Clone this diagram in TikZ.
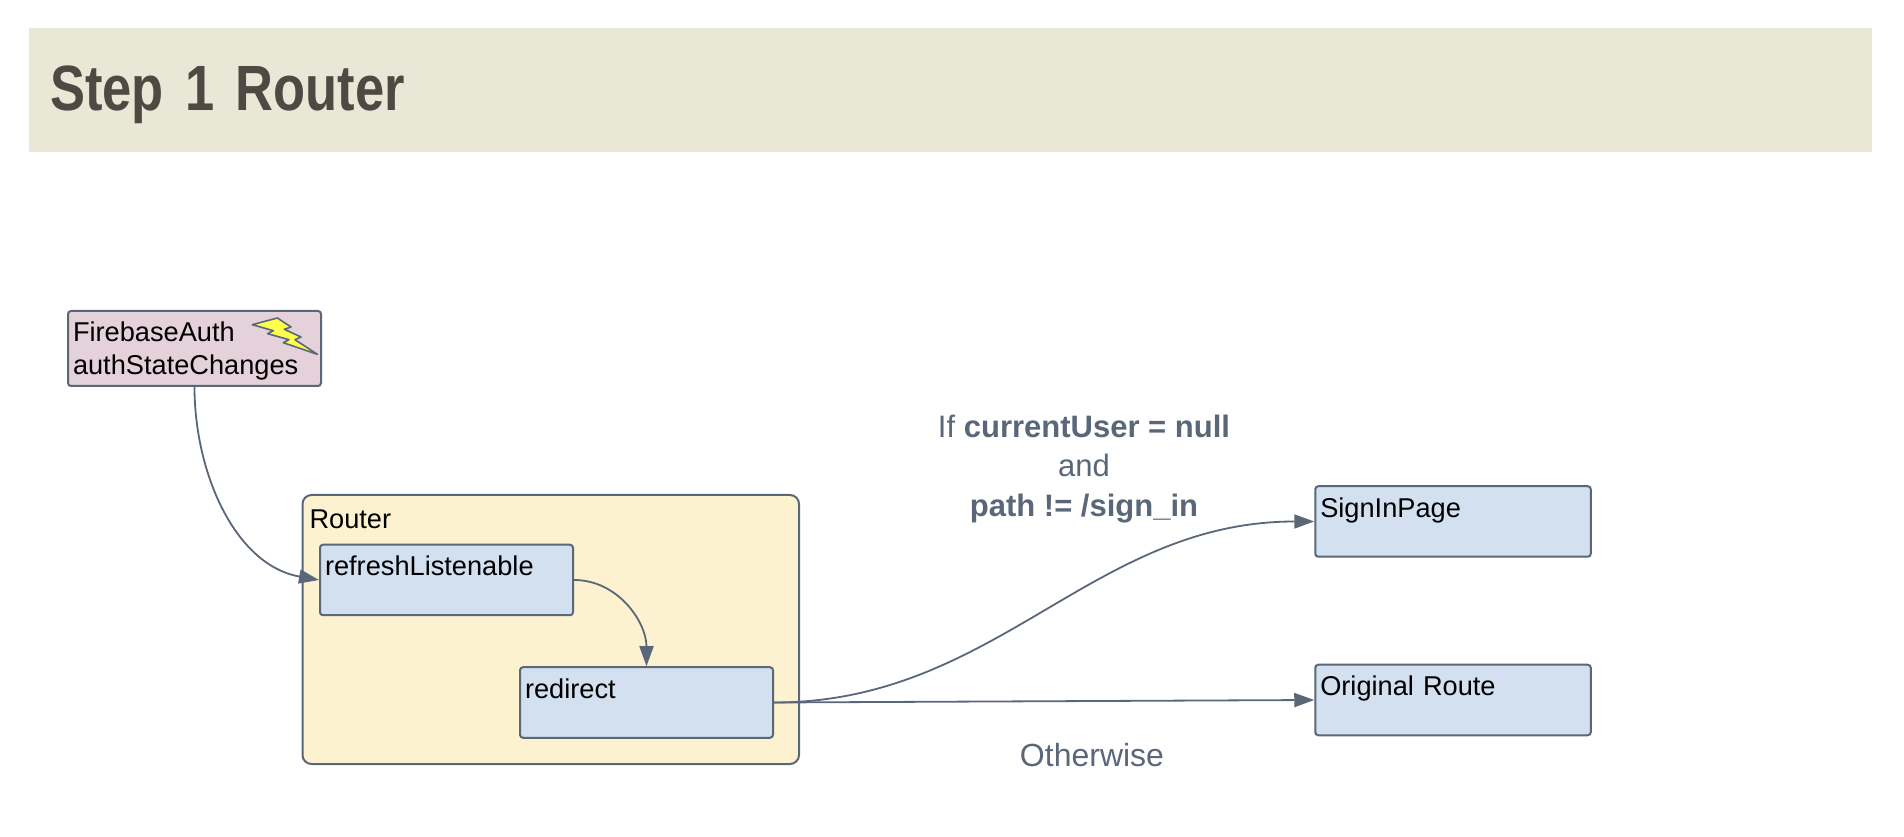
\documentclass[tikz,border=0pt]{standalone}
\usepackage{fontspec}
\setmainfont{Liberation Sans}
\newfontfamily\titlefont[FakeStretch=.82,WordSpace=.8]{Liberation Sans}
\usetikzlibrary{arrows.meta}
\definecolor{slateline}{HTML}{5A6778}
\definecolor{bandfill}{HTML}{E9E7D6}
\definecolor{titleink}{HTML}{4F4843}
\definecolor{pinkfill}{HTML}{E5D1DA}
\definecolor{bluefill}{HTML}{D3E0F0}
\definecolor{routerfill}{HTML}{FDF2D0}
\definecolor{boltfill}{HTML}{FFFF4D}
\tikzset{
  bandbox/.style={fill=bandfill, text=titleink, font=\titlefont\bfseries\fontsize{64}{70}\selectfont,
    inner ysep=0pt, inner xsep=21pt, text width=1801pt, text height=83pt, text depth=41pt},
  pagebox/.style={draw=slateline, line width=2pt, fill=bluefill, rounded corners=3pt,
    font=\fontsize{27.2}{33}\selectfont, inner ysep=0pt, inner xsep=5pt, align=left,
    text width=243pt, text height=31pt, text depth=39.5pt},
  routerbox/.style={draw=slateline, line width=2pt, fill=routerfill, rounded corners=9pt,
    font=\fontsize{27.2}{33}\selectfont, inner ysep=0pt, inner xsep=7pt, align=left,
    text width=482.5pt, text height=33.5pt, text depth=235.5pt},
  edgelabel/.style={text=slateline, font=\fontsize{31}{39.5}\selectfont, align=center},
  flow/.style={draw=slateline, line width=1.8pt, -{Triangle[length=20pt,width=14pt]}}
}
\begin{document}
\begin{tikzpicture}[x=1pt,y=1pt]
    \useasboundingbox (0,0) rectangle (1904,836);
    % heading
        \node (band) at (950.5,746) [bandbox] {Step 1 Router};

    % boxes
        \node (firebase) at (194.5,487.5) [pagebox, fill=pinkfill, text height=31pt, text depth=44pt] {FirebaseAuth\\authStateChanges};
        \node (router) at (550.75,206.5) [routerbox] {Router};
        \node (refresh) at (446.5,256) [pagebox] {refreshListenable};
        \node (redirect) at (646.5,133.5) [pagebox] {redirect};
        \node (signin) at (1453,314.5) [pagebox, text width=265.5pt] {SignInPage};
        \node (original) at (1453,136) [pagebox, text width=265.5pt] {Original Route};

    % bolt on the firebase box
        \draw[slateline, line width=1.6pt, fill=boltfill, line join=round]
        (252.3,511.3) -- (277.3,518) -- (291,509) -- (284.3,506.7) -- (301,499)
        -- (295,496.3) -- (317.3,481.7) -- (283.3,493.3) -- (289,496.3) -- (267.7,502.3)
        -- (273.3,505.3) -- cycle;

        \draw[flow] (firebase.south) to[out=-90,in=170,looseness=.95] (refresh.west);
        \draw[flow] (refresh.east) to[out=0,in=90] (redirect.north);
        \draw[flow] (redirect.east) to[out=0,in=180] (signin.west);
        \draw[flow] (redirect.east) to (original.west);

    \node (condition) at (1084,367) [edgelabel] {If \textbf{currentUser = null}\\and\\\textbf{path != /sign\_in}};
    \node (otherwise) at (1092,81) [edgelabel, font=\fontsize{32}{40}\selectfont] {Otherwise};
  \end{tikzpicture}
\end{document}
